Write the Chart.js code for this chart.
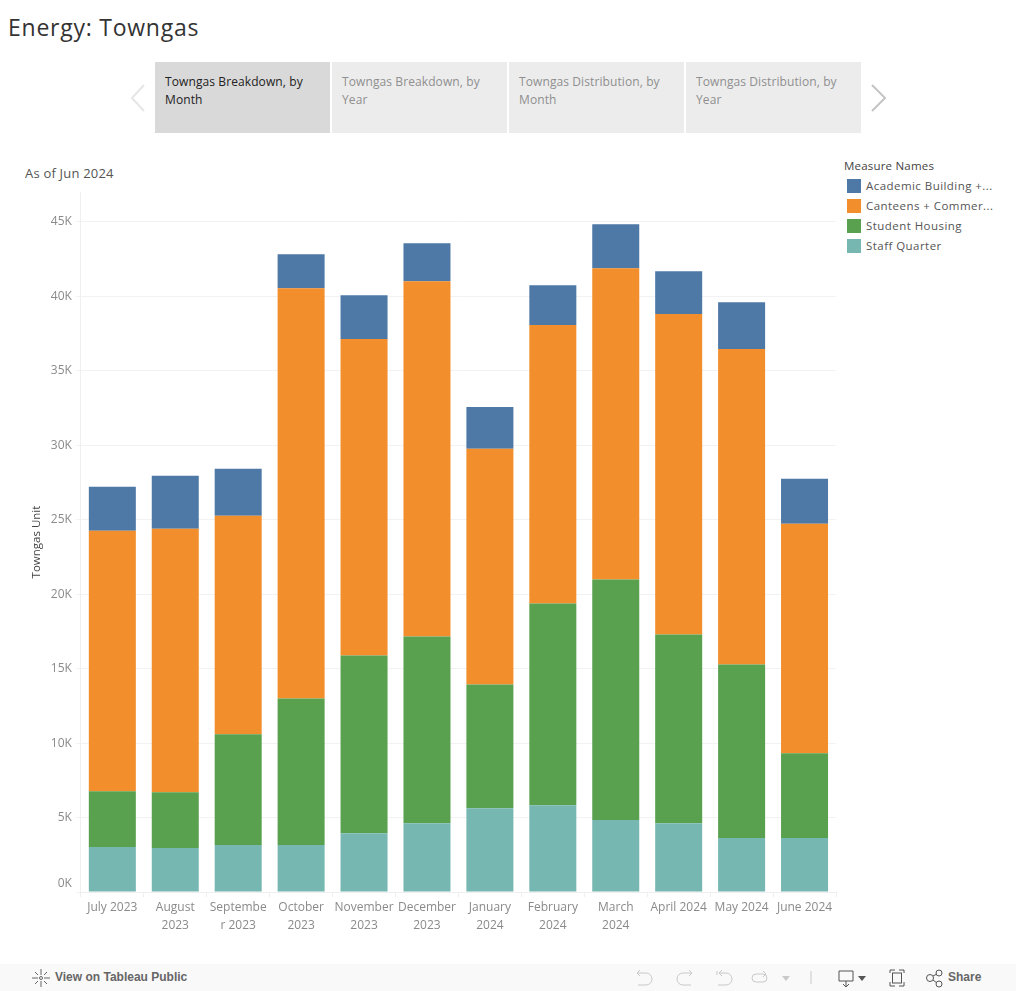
<!DOCTYPE html>
<html>
<head>
<meta charset="utf-8">
<title>Energy: Towngas</title>
<script src="https://cdn.jsdelivr.net/npm/chart.js@4"></script>
<style>
  html, body { margin: 0; padding: 0; background: #fff; }
  body { position: relative; width: 1016px; height: 991px; overflow: hidden; font-family: "Open Sans", sans-serif; }
  .abs { position: absolute; }
  #title { left: 8px; top: 11px; font-size: 23px; color: #333; letter-spacing: 0.75px; white-space: nowrap; }
  .tab { top: 62px; height: 71px; width: 176px; background: #ececec; color: #8f8f8f; font-size: 12px; line-height: 18px; padding: 11px 0 0 10px; box-sizing: border-box; letter-spacing: 0.1px; }
  .tab.on { background: #d9d9d9; color: #222; }
  #asof { left: 25px; top: 164px; font-size: 13px; color: #555; letter-spacing: 0.2px; }
  #legendTitle { left: 844px; top: 158px; font-size: 11.5px; font-weight: 500; color: #444; letter-spacing: 0.2px; }
  .leg { left: 847px; width: 160px; height: 20px; font-size: 11.5px; color: #555; white-space: nowrap; letter-spacing: 0.45px; }
  .leg i { position: absolute; left: 0; top: 2px; width: 14px; height: 14px; }
  .leg span { position: absolute; left: 19px; top: 1px; }
  #chartBox { left: 0; top: 180px; width: 850px; height: 757px; }
  #bar { left: 0; top: 964px; width: 1016px; height: 27px; background: #f9f9f9; font-family: "Liberation Sans", sans-serif; font-size: 12px; font-weight: 700; color: #666; }
  #bar span { position: absolute; top: 6px; white-space: nowrap; }
  #bar svg { position: absolute; top: 0; left: 0; }
</style>
</head>
<body>
<div class="abs" id="title">Energy: Towngas</div>

<svg class="abs" style="left:0;top:60px" width="1016" height="76">
  <polyline points="144,25 132,38 144,51" fill="none" stroke="#e6e6e6" stroke-width="2"/>
  <polyline points="872,25 885,38 872,51" fill="none" stroke="#c4c4c4" stroke-width="2"/>
</svg>
<div class="abs tab on" style="left:155px;width:175px">Towngas Breakdown, by<br>Month</div>
<div class="abs tab" style="left:332px;width:175px">Towngas Breakdown, by<br>Year</div>
<div class="abs tab" style="left:509px;width:175px">Towngas Distribution, by<br>Month</div>
<div class="abs tab" style="left:686px;width:175px">Towngas Distribution, by<br>Year</div>

<div class="abs" id="asof">As of Jun 2024</div>
<div class="abs" id="legendTitle">Measure Names</div>
<div id="legend"></div>

<div class="abs" id="chartBox"><canvas id="towngas"></canvas></div>

<div class="abs" id="bar">
  <svg width="1016" height="27" fill="none">
    <g stroke="#666" stroke-width="1">
      <circle cx="41" cy="14" r="1.5"/><path d="M41 5v6M41 17v6M32 14h6M44 14h6M35 8l3 3M44 17l3 3M47 8l-3 3M38 17l-3 3"/>
    </g>
    <g stroke="#c9c9c9" stroke-width="1">
      <path d="M637 9h9a5 5 0 0 1 0 12h-8M640 6l-3 3 3 3"/>
      <path d="M692 9h-9a5 5 0 0 0 0 12h8M689 6l3 3-3 3"/>
      <path d="M717 7v4M719 9h7a5 5 0 0 1 0 12h-8M722 6l-3 3 3 3"/>
      <rect x="752" y="10" width="15" height="8" rx="4"/><path d="M763 7l3 3-3 3"/>
      <path d="M811 7v13"/>
    </g>
    <path d="M782 12h8l-4 5z" fill="#c9c9c9"/>
    <g stroke="#555" stroke-width="1">
      <path d="M839 7h14v10h-14zM846 17v6M843 20l3 3 3-3"/>
      <path d="M890 9v-3h5M899 6h5v3M904 18v4h-5M895 22h-5v-4"/>
      <rect x="892.5" y="9" width="9" height="10"/>
      <circle cx="930" cy="14" r="3.5"/><circle cx="939" cy="9" r="3"/><circle cx="939" cy="20" r="3"/>
      <path d="M933 12l4-2M933 16l4 3"/>
    </g>
    <path d="M858 12h8l-4 5z" fill="#555"/>
  </svg>
  <span style="left:55px">View on Tableau Public</span>
  <span style="left:948px">Share</span>
</div>

<script>
const months = [
  "July 2023",
  ["August", "2023"],
  ["Septembe", "r 2023"],
  ["October", "2023"],
  ["November", "2023"],
  ["December", "2023"],
  ["January", "2024"],
  ["February", "2024"],
  ["March", "2024"],
  "April 2024",
  "May 2024",
  "June 2024",
];

// stacked bottom to top
const staffQuarter = [3020, 2950, 3150, 3150, 3950, 4620, 5630, 5830, 4830, 4620, 3620, 3620];
const studentHousing = [3750, 3750, 7440, 9850, 11930, 12540, 8310, 13540, 16150, 12670, 11660, 5700];
const canteens = [17490, 17700, 14680, 27550, 21250, 23860, 15820, 18700, 20910, 21520, 21180, 15410];
const academic = [2950, 3550, 3150, 2280, 2950, 2550, 2810, 2680, 2950, 2880, 3150, 3020];

const yTicks = [0, 5000, 10000, 15000, 20000, 25000, 30000, 35000, 40000, 45000];

const legendItems = [
  { label: "Academic Building +...", color: "#4e79a7" },
  { label: "Canteens + Commer...", color: "#f28e2b" },
  { label: "Student Housing", color: "#59a14f" },
  { label: "Staff Quarter", color: "#76b7b2" },
];

const legend = document.getElementById("legend");
legendItems.forEach((item, i) => {
  const row = document.createElement("div");
  row.className = "abs leg";
  row.style.top = 177 + i * 20 + "px";
  row.innerHTML = '<i style="background:' + item.color + '"></i><span>' + item.label + "</span>";
  legend.appendChild(row);
});

function barSet(label, data, color) {
  return { label: label, data: data, backgroundColor: color, barPercentage: 0.747, categoryPercentage: 1 };
}

new Chart(document.getElementById("towngas").getContext("2d"), {
  type: "bar",
  data: {
    labels: months,
    datasets: [
      barSet("Staff Quarter", staffQuarter, "#76b7b2"),
      barSet("Student Housing", studentHousing, "#59a14f"),
      barSet("Canteens + Commer...", canteens, "#f28e2b"),
      barSet("Academic Building +...", academic, "#4e79a7"),
    ],
  },
  options: {
    responsive: true,
    maintainAspectRatio: false,
    animation: false,
    layout: { padding: { left: 30, top: 10, right: 14, bottom: 0 } },
    plugins: { legend: { display: false }, tooltip: { enabled: false } },
    scales: {
      x: {
        stacked: true,
        grid: { color: "#efefef", drawTicks: true, tickLength: 5, drawOnChartArea: false },
        border: { color: "#efefef" },
        ticks: {
          color: "#8a8a8a",
          font: { family: "Open Sans", size: 12, lineHeight: 1.5 },
          maxRotation: 0,
          minRotation: 0,
          autoSkip: false,
          padding: 2,
        },
      },
      y: {
        stacked: true,
        min: 0,
        max: 47000,
        afterBuildTicks: (axis) => {
          axis.ticks = yTicks.map((v) => ({ value: v }));
        },
        grid: { color: "#f2f2f2", tickLength: 5 },
        border: { color: "#efefef" },
        title: { display: true, text: "Towngas Unit", color: "#444", font: { family: "Open Sans", size: 11.5, weight: "500" }, padding: { top: 0, bottom: 3 } },
        ticks: {
          color: "#8a8a8a",
          font: { family: "Open Sans", size: 12, lineHeight: 1.35 },
          padding: 4,
          callback: (v) => (v === 0 ? ["0K", ""] : v / 1000 + "K"),
        },
      },
    },
  },
});
</script>
</body>
</html>
